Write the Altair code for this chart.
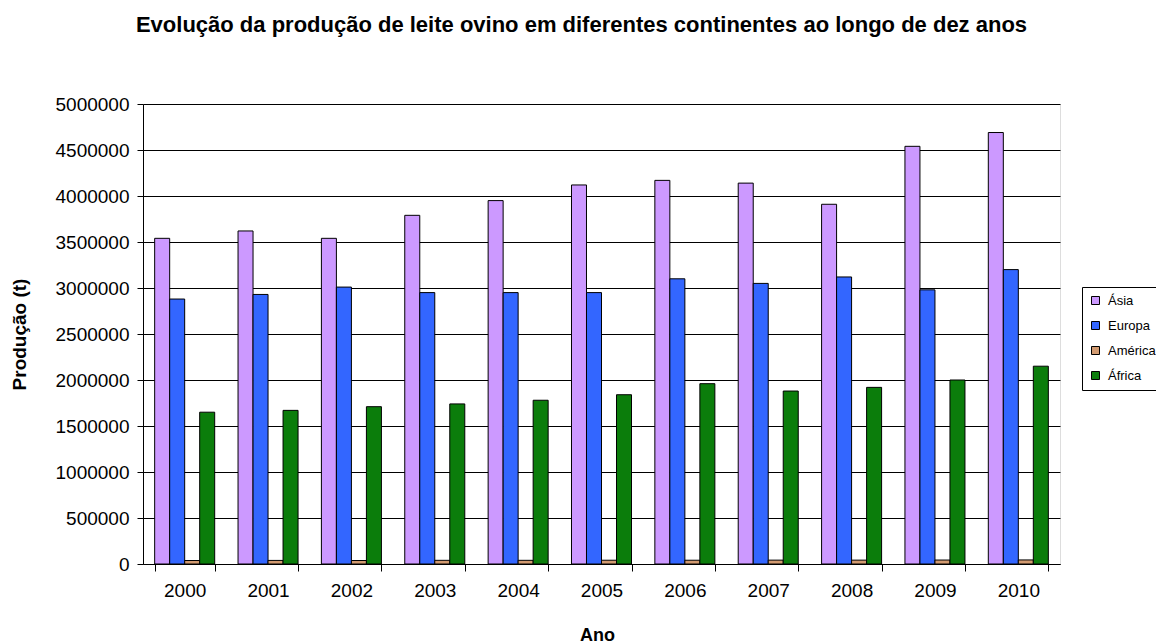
import altair as alt
import pandas as pd

years = ["2000", "2001", "2002", "2003", "2004", "2005", "2006", "2007", "2008", "2009", "2010"]
series = ["Ásia", "Europa", "América", "África"]
asia = [3540000, 3620000, 3540000, 3790000, 3950000, 4120000, 4170000, 4140000, 3910000, 4540000, 4690000]
europa = [2880000, 2930000, 3010000, 2950000, 2950000, 2950000, 3100000, 3050000, 3120000, 2980000, 3200000]
america = [38000, 39000, 38000, 40000, 40000, 41000, 41000, 42000, 42000, 43000, 44000]
africa = [1650000, 1670000, 1710000, 1740000, 1780000, 1840000, 1960000, 1880000, 1920000, 2000000, 2150000]
colors = ["#CC99FF", "#3366FF", "#D29A70", "#0B7D0B"]
y_ticks = [0, 500000, 1000000, 1500000, 2000000, 2500000, 3000000, 3500000, 4000000, 4500000, 5000000]

rows = []
for name, vals in zip(series, [asia, europa, america, africa]):
    for yr, v in zip(years, vals):
        rows.append({"Ano": yr, "Continente": name, "Produção": v})
df = pd.DataFrame(rows)

FONT = "Liberation Sans"

chart = alt.Chart(df).mark_bar(stroke="black", strokeWidth=1).encode(
    x=alt.X("Ano:N", sort=years,
            scale=alt.Scale(paddingInner=0.28, paddingOuter=0.14),
            axis=alt.Axis(title="Ano", labelAngle=0, tickBand="extent", tickSize=7,
                          tickColor="black", domainColor="black", labelColor="black",
                          labelFontSize=19, labelPadding=10, labelFont=FONT,
                          titleFont=FONT, titleFontSize=18, titleFontWeight="bold",
                          titleColor="black", titleX=454, titleY=76,
                          titleBaseline="alphabetic", grid=False)),
    xOffset=alt.XOffset("Continente:N", sort=series,
                        scale=alt.Scale(paddingInner=0, paddingOuter=0)),
    y=alt.Y("Produção:Q",
            scale=alt.Scale(domain=[0, 5000000], nice=False),
            axis=alt.Axis(title="Produção (t)", values=y_ticks, format="d",
                          tickSize=6, tickColor="black", domainColor="black",
                          gridColor="black", gridWidth=1, grid=True,
                          labelColor="black", labelFontSize=19, labelPadding=8,
                          labelFont=FONT, titleFont=FONT, titleFontSize=19,
                          titleFontWeight="bold", titleColor="black",
                          titleX=-124, titleY=230, titleAngle=270,
                          titleBaseline="middle", titleAlign="center")),
    color=alt.Color("Continente:N", sort=series,
                    scale=alt.Scale(domain=series, range=colors),
                    legend=alt.Legend(title=None, orient="none", legendX=939, legendY=183,
                                      symbolType="square", symbolSize=64,
                                      symbolStrokeColor="black", symbolStrokeWidth=1,
                                      labelFont=FONT, labelFontSize=13, labelColor="black",
                                      rowPadding=11, padding=7, labelOffset=6,
                                      strokeColor="black", fillColor="white")),
).properties(
    width=917,
    height=460,
    title=alt.TitleParams(
        "Evolução da produção de leite ovino em diferentes continentes ao longo de dez anos",
        font=FONT, fontSize=22, fontWeight="bold", color="black",
        anchor="middle", dx=-20, offset=58),
    autosize=alt.AutoSizeParams(type="none"),
    padding={"left": 143, "top": 104, "right": 96, "bottom": 80},
).configure_view(stroke=None).configure(background="white")

chart.save("out.html", embed_options={"renderer": "svg", "actions": False})
